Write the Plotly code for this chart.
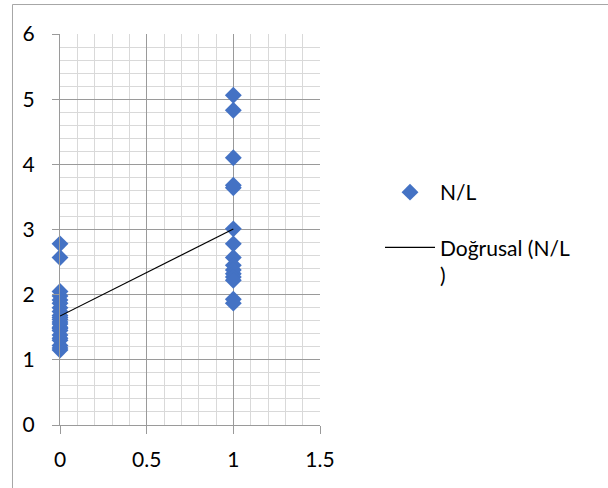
import numpy as np
import plotly.graph_objects as go

# Data: group indicator (0/1) and N/L values
x0_vals = [2.78, 2.57, 2.05, 1.98, 1.92, 1.87, 1.80, 1.74, 1.68, 1.62, 1.55, 1.50,
           1.45, 1.38, 1.30, 1.22, 1.15, 1.18, 1.33, 1.48, 1.58, 1.65]
x1_vals = [5.06, 4.83, 4.10, 3.68, 3.64, 3.01, 2.78, 2.57, 2.45, 2.38, 2.32,
           2.27, 2.22, 1.93, 1.87]
x_data = [0] * len(x0_vals) + [1] * len(x1_vals)
y_data = x0_vals + x1_vals

x_ticks = [0, 0.5, 1, 1.5]
y_ticks = [0, 1, 2, 3, 4, 5, 6]

slope, intercept = np.polyfit(x_data, y_data, 1)
trend_x = [min(x_data), max(x_data)]
trend_y = [intercept + slope * v for v in trend_x]

FONT = "Lato"
FS = 21
fig = go.Figure()
fig.add_trace(go.Scatter(
    x=x_data, y=y_data, mode="markers", name="N/L",
    marker=dict(symbol="diamond", size=13, color="#4472C4", line=dict(width=0)),
    legendgroup="a", cliponaxis=False,
))
fig.add_trace(go.Scatter(
    x=trend_x, y=trend_y, mode="lines", name="Doğrusal (N/L<br>)",
    line=dict(color="black", width=1.2), legendgroup="b",
))

major = "#9a9a9a"
minor = "#d9d9d9"
fig.update_xaxes(
    range=[0, 1.5], tickvals=x_ticks, ticktext=[str(v) for v in x_ticks],
    showgrid=True, gridcolor=major, gridwidth=1,
    minor=dict(dtick=0.1, showgrid=True, gridcolor=minor, gridwidth=1),
    showline=True, linecolor=major, linewidth=1,
    ticks="outside", ticklen=8, tickcolor=major,
    zeroline=False, ticklabelstandoff=8,
    tickfont=dict(family=FONT, size=FS, color="black"),
)
fig.update_yaxes(
    range=[0, 6], tickvals=y_ticks,
    showgrid=True, gridcolor=major, gridwidth=1,
    minor=dict(dtick=0.2, showgrid=True, gridcolor=minor, gridwidth=1),
    showline=True, linecolor=major, linewidth=1,
    ticks="outside", ticklen=7, tickcolor=major,
    zeroline=False, ticklabelstandoff=13,
    tickfont=dict(family=FONT, size=FS, color="black"),
)

fig.add_shape(type="rect", xref="paper", yref="paper",
              x0=-0.1827, x1=2.5, y0=-0.5, y1=1.0754,
              line=dict(color="#a6a6a6", width=1), fillcolor="rgba(0,0,0,0)", layer="below")

fig.update_layout(
    width=608, height=488,
    margin=dict(l=60, r=288, t=34, b=63),
    paper_bgcolor="white", plot_bgcolor="white",
    font=dict(family=FONT, size=FS, color="black"),
    showlegend=True,
    legend=dict(x=1.2308, y=0.647, xanchor="left", yanchor="top",
                traceorder="grouped", tracegroupgap=25, valign="top",
                itemwidth=50, font=dict(family=FONT, size=FS),
                bgcolor="rgba(0,0,0,0)"),
)

fig.write_html("out.html")
